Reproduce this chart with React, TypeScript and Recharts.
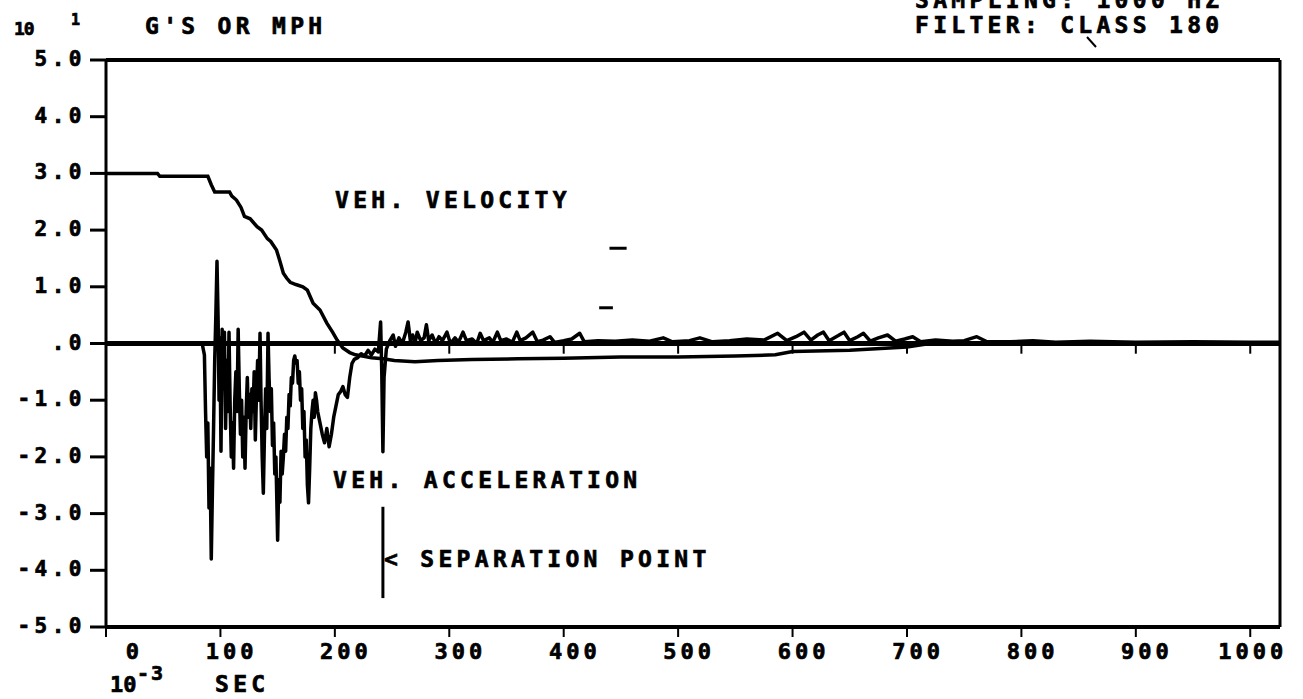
import { LineChart, Line, XAxis, YAxis, ReferenceLine } from 'recharts';

const FONT = '"DejaVu Sans Mono", "Liberation Mono", monospace';

const xTicks = [0, 100, 200, 300, 400, 500, 600, 700, 800, 900, 1000];
const yTicks = [-5, -4, -3, -2, -1, 0, 1, 2, 3, 4, 5];
const zeroAxisTicks = [100, 200, 300, 400, 500, 600, 700, 800, 900, 1000];

// time in ms, values in units of 10 (G's or MPH)
const velocityTime = [
  0, 45, 47, 89, 92, 95, 108, 110, 114, 118, 121, 126, 132, 136, 141, 144, 149, 152, 155, 158,
  161, 166, 172, 176, 181, 187, 193, 198, 202, 207, 213, 218, 224, 232, 242, 252, 270, 290, 320,
  360, 400, 450, 500, 550, 585, 600, 650, 700, 720, 1026,
];
const velocityValue = [
  3.0, 3.0, 2.95, 2.95, 2.8, 2.67, 2.67, 2.6, 2.53, 2.4, 2.24, 2.2, 2.06, 2.0, 1.85, 1.8, 1.65,
  1.45, 1.24, 1.15, 1.08, 1.04, 1.0, 0.94, 0.71, 0.59, 0.36, 0.2, 0.06, -0.08, -0.16, -0.2, -0.22,
  -0.25, -0.27, -0.3, -0.32, -0.3, -0.28, -0.27, -0.26, -0.24, -0.24, -0.22, -0.2, -0.14, -0.12,
  -0.06, 0.0, 0.0,
];

const accelTime = [
  0, 84, 86, 87, 88, 89, 90, 91, 92, 93, 94, 95, 96, 97, 98, 98.8, 99.5, 100.5, 101.5, 102.5,
  103.5, 104.5, 105.5, 106.5, 107.5, 108.5, 109.5, 110.5, 111.5, 112.5, 113.5, 114.5, 115.5, 116.5,
  117.5, 118.5, 119.5, 120.5, 121.5, 122.5, 123.5, 124.5, 125.5, 126.5, 127.5, 128.5, 129.5, 130.5,
  131.5, 132.5, 133.5, 134.6, 135.5, 136.5, 137.5, 138.5, 139.5, 140.5, 141.6, 142.5, 143.5, 144.5,
  145.5, 146.5, 147.5, 148.5, 150, 151, 152, 153, 154, 155, 156, 157, 158, 159, 160, 161, 162, 163,
  164, 165, 166, 167, 168, 169, 170, 171, 172, 173, 174, 175, 176, 177, 178, 179, 180, 181, 182,
  183, 184, 185, 187, 189, 191, 193, 195, 197, 199, 201, 203, 205, 207, 209, 211, 213, 215, 217,
  220, 223, 226, 229, 232, 235, 238, 240, 241, 242, 243, 245, 248, 251, 253, 256, 259, 262, 264,
  266, 268, 270, 272, 275, 278, 280, 282, 285, 288, 291, 294, 298, 301, 305, 308, 312, 315, 320,
  324, 327, 330, 335, 338, 342, 345, 350, 355, 359, 362, 367, 373, 377, 382, 388, 392, 400, 407,
  414, 418, 430, 445, 460, 475, 487, 495, 510, 519, 530, 545, 560, 575, 587, 595, 603, 610, 616,
  622, 627, 632, 640, 645, 650, 657, 662, 668, 675, 683, 690, 698, 705, 712, 725, 740, 750, 761,
  770, 790, 810, 830, 860, 900, 950, 1000, 1026,
];
const accelValue = [
  0, 0, -0.2, -1.2, -2.0, -1.4, -2.9, -2.2, -3.8, -2.6, -1.5, -0.3, 0.5, 1.45, 0.4, -1.0, 0.1,
  -1.9, 0.25, -0.8, 0.2, -1.5, -0.3, -1.2, 0.2, -1.1, -2.0, -1.4, -2.2, -1.0, -0.5, -1.2, 0.25,
  -0.8, -1.6, -1.0, -2.0, -1.3, -2.2, -1.2, -0.6, -1.3, -0.9, -1.5, -0.8, -1.2, -0.5, -1.7, -0.9,
  -0.3, -1.0, 0.18, -1.0, -2.0, -2.64, -1.6, -0.8, -1.5, 0.18, -0.6, -1.2, -0.8, -1.8, -1.4, -2.3,
  -2.0, -3.47, -2.4, -2.8, -1.9, -2.3, -2.0, -1.6, -1.9, -1.3, -1.5, -0.9, -1.1, -0.6, -0.7, -0.3,
  -0.22, -0.35, -0.3, -0.7, -0.5, -1.0, -0.8, -1.5, -1.2, -2.0, -1.7, -2.5, -2.81, -2.2, -1.5,
  -1.2, -1.0, -1.3, -0.87, -1.0, -1.2, -1.4, -1.6, -1.75, -1.5, -1.82, -1.6, -1.3, -1.1, -0.9,
  -0.85, -0.76, -0.9, -0.95, -0.6, -0.35, -0.28, -0.25, -0.18, -0.22, -0.12, -0.2, -0.1, -0.15,
  0.38, -0.5, -1.91, -0.6, -0.1, 0.05, 0.15, -0.05, 0.1, 0.0, 0.2, 0.38, 0.05, 0.15, 0.0, 0.2,
  0.05, 0.1, 0.33, 0.05, 0.15, 0.0, 0.12, 0.05, 0.2, 0.0, 0.1, 0.02, 0.2, 0.05, 0.08, 0.0, 0.18,
  0.05, 0.1, 0.02, 0.2, 0.05, 0.08, 0.02, 0.2, 0.05, 0.1, 0.2, 0.03, 0.06, 0.12, 0.02, 0.05, 0.08,
  0.18, 0.03, 0.05, 0.04, 0.06, 0.04, 0.1, 0.03, 0.05, 0.1, 0.03, 0.05, 0.08, 0.06, 0.18, 0.05,
  0.12, 0.2, 0.06, 0.15, 0.2, 0.05, 0.14, 0.2, 0.05, 0.12, 0.18, 0.04, 0.1, 0.15, 0.04, 0.08, 0.12,
  0.03, 0.06, 0.04, 0.05, 0.12, 0.03, 0.03, 0.05, 0.02, 0.04, 0.02, 0.03, 0.02, 0.02,
];

const separationTime = 242;
const separationRange = [-2.88, -4.49];

// two stray pen dashes in the plot
const strayDashTime = [[440, 455], [431, 443]];
const strayDashValue = [1.68, 0.63];

const velocityData = velocityTime.map((t, i) => ({ t, v: velocityValue[i] }));
const accelData = accelTime.map((t, i) => ({ t, v: accelValue[i] }));

function XTick({ x, y, payload }: any) {
  return (
    <text x={x + 37} y={y + 20} textAnchor="end" fontFamily={FONT} fontWeight="bold"
      fontSize={22} letterSpacing={4} fill="#000" stroke="#000" strokeWidth={0.7}>
      {payload.value}
    </text>
  );
}

function YTick({ x, y, payload }: any) {
  const v = payload.value;
  const label = v === 0 ? '.0' : v.toFixed(1);
  return (
    <text x={x} y={y + 6} textAnchor="end" fontFamily={FONT} fontWeight="bold"
      fontSize={21} letterSpacing={4.5} fill="#000" stroke="#000" strokeWidth={0.7}>
      {label}
    </text>
  );
}

const txt = {
  fontFamily: FONT,
  fontWeight: 'bold' as const,
  fill: '#000',
  stroke: '#000',
  strokeWidth: 0.7,
};

export default function App() {
  return (
    <div style={{ position: 'absolute', left: 0, top: 0, width: 1303, height: 699, background: '#fff' }}>
      <LineChart width={1303} height={699} margin={{ top: 60, right: 23, bottom: 12, left: 0 }}>
        <XAxis dataKey="t" type="number" domain={[0, 1026]} ticks={xTicks} allowDataOverflow
          height={60} tickSize={10} tickMargin={2} tick={<XTick />}
          axisLine={{ stroke: '#000', strokeWidth: 4 }} tickLine={{ stroke: '#000', strokeWidth: 2 }} />
        <XAxis xAxisId="top" orientation="top" dataKey="t" type="number" domain={[0, 1026]}
          ticks={xTicks} mirror tick={false} tickSize={10}
          axisLine={{ stroke: '#000', strokeWidth: 4 }} tickLine={{ stroke: '#000', strokeWidth: 2 }} />
        <YAxis type="number" domain={[-5, 5]} ticks={yTicks} width={106} tickSize={16} tickMargin={4}
          tick={<YTick />} axisLine={{ stroke: '#000', strokeWidth: 3 }}
          tickLine={{ stroke: '#000', strokeWidth: 3 }} />
        <YAxis yAxisId="right" orientation="right" type="number" domain={[-5, 5]} ticks={yTicks}
          mirror tick={false} tickSize={13} axisLine={{ stroke: '#000', strokeWidth: 3 }}
          tickLine={{ stroke: '#000', strokeWidth: 3 }} />
        <ReferenceLine y={0} stroke="#000" strokeWidth={5} />
        {zeroAxisTicks.map((t) => (
          <ReferenceLine key={t} segment={[{ x: t, y: 0 }, { x: t, y: -0.18 }]} stroke="#000" strokeWidth={2} />
        ))}
        <ReferenceLine
          segment={[{ x: separationTime, y: separationRange[0] }, { x: separationTime, y: separationRange[1] }]}
          stroke="#000" strokeWidth={3} />
        {strayDashTime.map((r, i) => (
          <ReferenceLine key={i} segment={[{ x: r[0], y: strayDashValue[i] }, { x: r[1], y: strayDashValue[i] }]}
            stroke="#000" strokeWidth={3} />
        ))}
        <Line data={velocityData} dataKey="v" type="linear" stroke="#000" strokeWidth={3.5}
          dot={false} isAnimationActive={false} />
        <Line data={accelData} dataKey="v" type="linear" stroke="#000" strokeWidth={3.5}
          strokeLinejoin="round" dot={false} isAnimationActive={false} />
      </LineChart>
      <svg width={1303} height={699} style={{ position: 'absolute', left: 0, top: 0, pointerEvents: 'none' }}>
        <text x={14} y={35} fontSize={18} letterSpacing={-1} {...txt}>10</text>
        <text x={71} y={25} fontSize={15} {...txt}>1</text>
        <text x={145} y={34} fontSize={23} letterSpacing={4.3} {...txt}>G'S OR MPH</text>
        <text x={915} y={8} fontSize={23} letterSpacing={4.3} {...txt}>SAMPLING: 1000 HZ</text>
        <text x={915} y={33} fontSize={23} letterSpacing={4.3} {...txt}>FILTER: CLASS 180</text>
        <line x1={1087} y1={37} x2={1096} y2={47} stroke="#000" strokeWidth={2} />
        <text x={335} y={208} fontSize={23} letterSpacing={4.3} {...txt}>VEH. VELOCITY</text>
        <text x={333} y={488} fontSize={23} letterSpacing={4.3} {...txt}>VEH. ACCELERATION</text>
        <text x={384} y={567} fontSize={23} letterSpacing={4.3} {...txt}>&lt; SEPARATION POINT</text>
        <text x={110} y={692} fontSize={22} {...txt}>10</text>
        <text x={137} y={680} fontSize={20} letterSpacing={2} {...txt}>-3</text>
        <text x={215} y={692} fontSize={23} letterSpacing={4.3} {...txt}>SEC</text>
      </svg>
    </div>
  );
}
